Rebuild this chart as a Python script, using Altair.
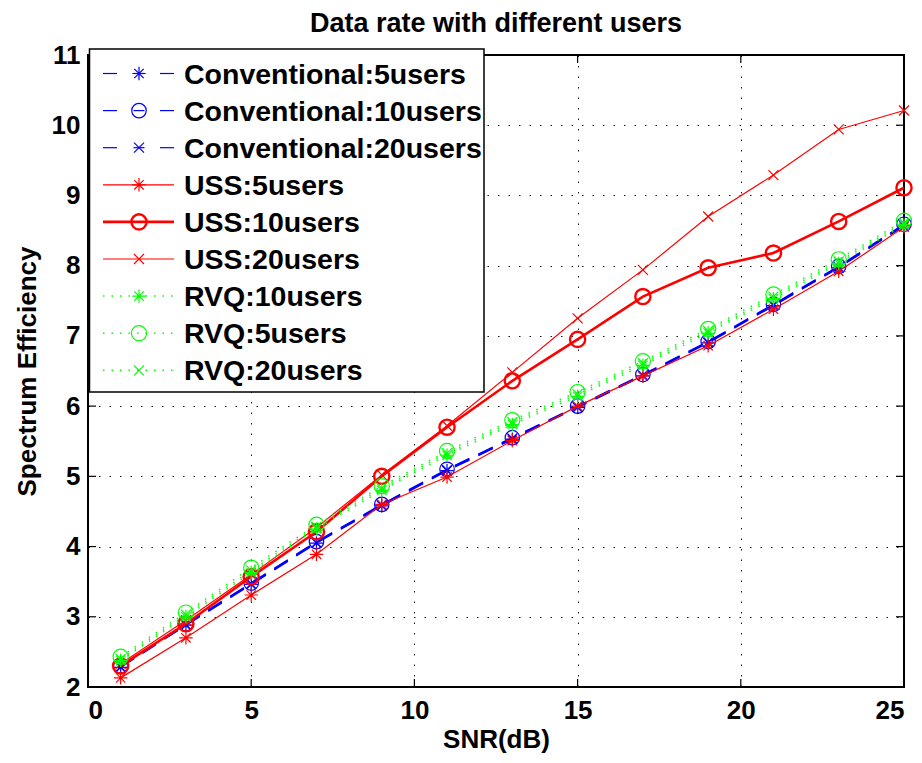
import altair as alt
import pandas as pd

snr = [1, 3, 5, 7, 9, 11, 13, 15, 17, 19, 21, 23, 25]

conv5 = [2.28, 2.88, 3.46, 4.05, 4.58, 5.08, 5.53, 5.98, 6.43, 6.90, 7.43, 7.97, 8.57]
conv10 = [2.30, 2.90, 3.48, 4.07, 4.60, 5.10, 5.55, 6.00, 6.45, 6.92, 7.45, 7.99, 8.59]
conv20 = [2.29, 2.89, 3.47, 4.06, 4.59, 5.09, 5.54, 5.99, 6.44, 6.91, 7.44, 7.98, 8.58]
uss5 = [2.13, 2.70, 3.31, 3.89, 4.60, 4.99, 5.51, 6.00, 6.43, 6.86, 7.38, 7.92, 8.55]
uss10 = [2.30, 2.90, 3.57, 4.21, 5.00, 5.70, 6.36, 6.95, 7.56, 7.97, 8.18, 8.63, 9.11]
uss20 = [2.33, 2.95, 3.60, 4.27, 5.02, 5.72, 6.48, 7.25, 7.94, 8.70, 9.29, 9.94, 10.21]
rvq10 = [2.38, 3.00, 3.63, 4.25, 4.80, 5.30, 5.74, 6.14, 6.58, 7.04, 7.53, 8.03, 8.58]
rvq5 = [2.43, 3.06, 3.70, 4.31, 4.86, 5.36, 5.80, 6.20, 6.64, 7.10, 7.59, 8.09, 8.64]
rvq20 = [2.40, 3.03, 3.66, 4.28, 4.83, 5.33, 5.77, 6.17, 6.61, 7.07, 7.56, 8.06, 8.61]

labels = [
    "Conventional:5users", "Conventional:10users", "Conventional:20users",
    "USS:5users", "USS:10users", "USS:20users",
    "RVQ:10users", "RVQ:5users", "RVQ:20users",
]
values = [conv5, conv10, conv20, uss5, uss10, uss20, rvq10, rvq5, rvq20]

x_ticks = [0, 5, 10, 15, 20, 25]
y_ticks = [2, 3, 4, 5, 6, 7, 8, 9, 10, 11]

W, H = 816, 632
FONT = "Liberation Sans"

ASTER = "M-1,0L1,0M0,-1L0,1M-0.7,-0.7L0.7,0.7M-0.7,0.7L0.7,-0.7"
XMARK = "M-1,-1L1,1M-1,1L1,-1"
BLUE, RED, GREEN = "#0000ff", "#ff0000", "#00ff00"

styles = [
    # color, dash, line width, shape, marker size, marker stroke width
    (BLUE, [16, 10], 1.6, ASTER, 180, 1.2),
    (BLUE, [16, 10], 1.6, "circle", 210, 1.2),
    (BLUE, [16, 10], 1.6, XMARK, 100, 1.2),
    (RED, None, 1.2, ASTER, 180, 1.2),
    (RED, None, 2.6, "circle", 230, 2.4),
    (RED, None, 1.2, XMARK, 100, 1.2),
    (GREEN, [1.5, 7], 1.5, ASTER, 180, 1.2),
    (GREEN, [1.5, 7], 1.5, "circle", 230, 1.2),
    (GREEN, [1.5, 7], 1.5, XMARK, 100, 1.2),
]

xs = alt.Scale(domain=[0, 25], nice=False, zero=False)
ys = alt.Scale(domain=[2, 11], nice=False, zero=False)

x_axis = alt.Axis(values=x_ticks, title="SNR(dB)", titleY=52, titleBaseline="middle",
                  labelPadding=10, grid=True, format="d")
y_axis = alt.Axis(values=y_ticks, title="Spectrum Efficiency", titleX=-61, titleY=H / 2,
                  titleBaseline="middle", titleAlign="center", labelPadding=8, grid=True,
                  format="d")

layers = []

# inward tick marks on all four sides
xt = pd.DataFrame({"t": x_ticks})
yt = pd.DataFrame({"t": y_ticks})
tick_style = dict(color="black", strokeWidth=1.2)
layers.append(alt.Chart(xt).mark_rule(**tick_style).encode(
    x=alt.X("t:Q", scale=xs, axis=x_axis), y=alt.value(H), y2=alt.value(H - 8)))
layers.append(alt.Chart(xt).mark_rule(**tick_style).encode(
    x=alt.X("t:Q", scale=xs), y=alt.value(0), y2=alt.value(8)))
layers.append(alt.Chart(yt).mark_rule(**tick_style).encode(
    y=alt.Y("t:Q", scale=ys, axis=y_axis), x=alt.value(0), x2=alt.value(8)))
layers.append(alt.Chart(yt).mark_rule(**tick_style).encode(
    y=alt.Y("t:Q", scale=ys), x=alt.value(W), x2=alt.value(W - 8)))

# data lines and markers
for lab, vals, st in zip(labels, values, styles):
    color, dash, lw, shape, msize, msw = st
    df = pd.DataFrame({"snr": snr, "v": vals})
    lk = dict(color=color, strokeWidth=lw)
    if dash:
        lk["strokeDash"] = dash
    base = alt.Chart(df).encode(x=alt.X("snr:Q", scale=xs), y=alt.Y("v:Q", scale=ys))
    layers.append(base.mark_line(**lk))
    layers.append(base.mark_point(shape=shape, size=msize, filled=False,
                                  stroke=color, strokeWidth=msw, opacity=1))

# legend box
one = pd.DataFrame({"a": [0]})
layers.append(alt.Chart(one).mark_rect(fill="white", stroke="black", strokeWidth=1.5).encode(
    x=alt.value(1.5), x2=alt.value(396), y=alt.value(-6), y2=alt.value(337)))

for i, (lab, st) in enumerate(zip(labels, styles)):
    color, dash, lw, shape, msize, msw = st
    ly = 18.5 + i * 37.1
    d = pd.DataFrame({"label": [lab]})
    if color == BLUE:
        for a, b in [(15, 29), (45.5, 56.5), (72, 86)]:
            layers.append(alt.Chart(d).mark_rule(color=color, strokeWidth=1.2).encode(
                x=alt.value(a), x2=alt.value(b), y=alt.value(ly)))
    else:
        rk = dict(color=color, strokeWidth=lw)
        if dash:
            rk["strokeDash"] = dash
        layers.append(alt.Chart(d).mark_rule(**rk).encode(
            x=alt.value(15), x2=alt.value(86), y=alt.value(ly)))
    layers.append(alt.Chart(d).mark_point(shape=shape, size=msize, filled=False,
                                          stroke=color, strokeWidth=msw, opacity=1).encode(
        x=alt.value(51), y=alt.value(ly)))
    layers.append(alt.Chart(d).mark_text(align="left", baseline="middle", font=FONT,
                                         fontSize=28.5, fontWeight="bold", color="black").encode(
        x=alt.value(96), y=alt.value(ly + 1), text="label:N"))

chart = alt.layer(*layers).properties(
    width=W, height=H,
    title=alt.TitleParams("Data rate with different users", font=FONT, fontSize=27,
                          fontWeight="bold", offset=4, color="black"),
    autosize=alt.AutoSizeParams(type="none"),
    padding={"left": 80, "top": 47, "right": 10, "bottom": 68},
).configure_view(
    stroke="black", strokeWidth=2
).configure_axis(
    domain=False, ticks=False, gridColor="black", gridDash=[1.5, 9], gridWidth=1,
    gridOpacity=0.9, labelFont=FONT, labelFontSize=26, labelFontWeight="bold",
    labelColor="black", titleFont=FONT, titleFontSize=26, titleFontWeight="bold",
    titleColor="black",
)

chart.save("out.html", embed_options={"renderer": "svg", "actions": False})
